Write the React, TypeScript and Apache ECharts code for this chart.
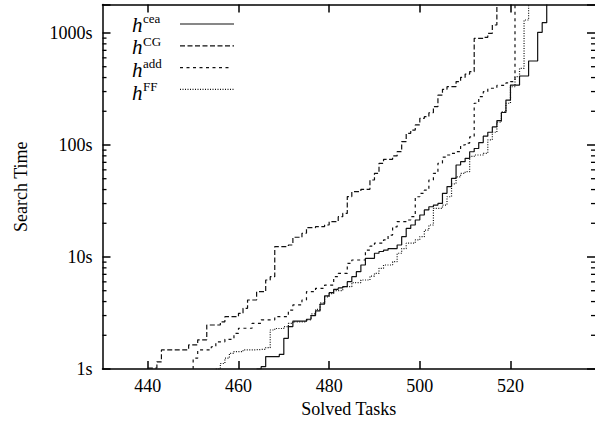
import React, { useEffect, useRef } from 'react';
import * as echarts from 'echarts';

// ---- data ----
const xMin = 430;
const xMax = 538.65;
const yMin = 1;
const yMax = 1800;
const xTicks = [440, 460, 480, 500, 520];
const yMajor = [1, 10, 100, 1000];
const yMinor = [2, 3, 4, 5, 6, 7, 8, 9, 20, 30, 40, 50, 60, 70, 80, 90, 200, 300, 400, 500, 600, 700, 800, 900];
const legendSup = ['cea', 'CG', 'add', 'FF'];

const ceaData: [number, number][] = [
  [464, 1], [465, 1.05], [466, 1.29], [469, 1.35], [470, 1.88], [471, 2.39], [472, 2.68], [475, 2.78],
  [476, 3.0], [477, 3.3], [478, 3.8], [479, 4.5], [480, 4.8], [481, 5.15], [482, 5.3], [483, 5.43],
  [484, 6.02], [485, 6.67], [486, 7.39], [487, 8.48], [488, 9.73], [490, 10.8], [491, 11.2], [492, 11.5],
  [493, 11.9], [495, 12.8], [496, 15.2], [497, 18.0], [498, 19.3], [499, 21.4], [500, 23.7], [501, 26.3],
  [502, 28.1], [503, 29.1], [504, 30.1], [505, 37], [506, 42.5], [507, 50.4], [508, 66.3], [509, 71],
  [510, 76.1], [511, 87], [512, 93], [513, 105], [514, 120], [515, 130], [516, 145], [517, 165],
  [518, 195], [519, 252], [520, 343], [522, 413], [524, 562], [526, 1014], [527, 1236], [528, 1800],
];

const cgData: [number, number][] = [
  [440, 1.02], [442, 1.16], [443, 1.48], [449, 1.64], [451, 1.82], [453, 2.47], [456, 2.64], [457, 2.93],
  [460, 3.14], [461, 3.48], [462, 4.13], [464, 4.9], [466, 6.23], [467, 6.67], [468, 12.4], [471, 12.8],
  [472, 15.0], [474, 16.3], [475, 18.3], [477, 18.7], [479, 19.3], [480, 20.7], [482, 22.9], [483, 24.5],
  [484, 34.6], [485, 38.3], [487, 40.2], [489, 48.7], [490, 55.9], [491, 68.6], [492, 74.5], [494, 79.8],
  [495, 87.2], [496, 107], [497, 127], [498, 136], [499, 151], [500, 173], [501, 179], [502, 194],
  [503, 220], [504, 279], [505, 314], [506, 332], [508, 368], [509, 402], [510, 430], [511, 452],
  [512, 896], [514, 915], [515, 993], [516, 1178], [517, 1262], [517, 1800],
];

const addData: [number, number][] = [
  [450, 1], [450, 1.25], [451, 1.48], [454, 1.58], [455, 1.75], [457, 1.84], [459, 2.08], [460, 2.31],
  [463, 2.56], [465, 2.74], [468, 2.93], [471, 3.36], [472, 3.73], [474, 4.13], [475, 4.9], [477, 5.25],
  [479, 5.62], [481, 6.67], [482, 7.15], [484, 8.78], [485, 9.4], [488, 11.5], [489, 12.5], [490, 13.3],
  [492, 14.2], [493, 15.7], [494, 18.6], [495, 20.7], [497, 21.4], [498, 22.9], [499, 34.5], [500, 37.0],
  [501, 39.6], [502, 48.7], [503, 55.9], [504, 68.7], [505, 78], [506, 81.4], [507, 84.3], [508, 87.1],
  [509, 100], [510, 104], [511, 118], [512, 236], [513, 270], [514, 299], [515, 321], [517, 340],
  [519, 358], [520, 368], [521, 1800],
];

const ffData: [number, number][] = [
  [455, 1], [456, 1.12], [457, 1.25], [458, 1.38], [459, 1.43], [461, 1.48], [463, 1.5], [466, 1.55],
  [467, 2.23], [468, 2.3], [470, 2.39], [471, 2.56], [472, 2.64], [475, 2.75], [476, 3.1], [477, 3.4],
  [478, 3.9], [479, 4.4], [480, 4.7], [481, 5.0], [483, 5.43], [485, 5.9], [487, 6.23], [489, 6.76],
  [490, 7.15], [491, 7.92], [492, 8.48], [494, 9.08], [495, 10.8], [496, 11.9], [497, 13.3], [499, 14.2],
  [500, 15.2], [501, 17.4], [502, 19.3], [503, 27.2], [505, 29.1], [506, 34.5], [507, 45], [508, 52],
  [509, 55.9], [510, 57.8], [511, 79], [512, 81.4], [514, 84.3], [515, 111], [516, 130], [517, 160],
  [518, 198], [519, 236], [520, 331], [521, 407], [522, 484], [523, 1306], [524, 1800],
];

const FONT = 'Liberation Serif';
const INK = '#111';

const seriesDefs = [
  { name: 'cea', data: ceaData, dash: 'solid' as any },
  { name: 'CG', data: cgData, dash: [5, 2.5] },
  { name: 'add', data: addData, dash: [3, 3.5] },
  { name: 'FF', data: ffData, dash: [1, 1.5] },
];

function isMajor(v: number) {
  return yMajor.some((m) => Math.abs(m - v) < 1e-6 * m);
}

export default function App() {
  const ref = useRef<HTMLDivElement>(null);

  useEffect(() => {
    const chart = echarts.init(ref.current!, null, { renderer: 'svg' });

    const legendGraphics: any[] = [];
    legendSup.forEach((sup, i) => {
      const hy = 24.7 + i * 22.6;
      const ly = 24 + i * 21.8;
      legendGraphics.push({
        type: 'text',
        x: 132,
        y: hy,
        style: { text: 'h', fontFamily: FONT, fontSize: 21, fontStyle: 'italic', fill: '#000', align: 'left', verticalAlign: 'middle' },
      });
      legendGraphics.push({
        type: 'text',
        x: 143,
        y: hy - 6.2,
        style: { text: sup, fontFamily: FONT, fontSize: 13, fill: '#000', align: 'left', verticalAlign: 'middle' },
      });
      const d = seriesDefs[i].dash;
      legendGraphics.push({
        type: 'line',
        shape: { x1: 180, y1: ly, x2: i === 2 ? 230 : 234, y2: ly },
        style: { stroke: INK, lineWidth: 1.2, lineDash: Array.isArray(d) ? d : null },
      });
    });

    const option: any = {
      animation: false,
      backgroundColor: '#fff',
      textStyle: { fontFamily: FONT },
      grid: { left: 102.5, top: 4.4, right: 0, bottom: 62 },
      xAxis: [
        {
          type: 'value',
          min: xMin,
          max: xMax,
          name: 'Solved Tasks',
          nameLocation: 'middle',
          nameGap: 30,
          nameTextStyle: { fontFamily: FONT, fontSize: 18, color: '#000' },
          axisLine: { show: true, onZero: false, lineStyle: { color: '#000', width: 1.5 } },
          axisTick: { show: true, inside: true, length: 8, customValues: xTicks, lineStyle: { color: '#000', width: 1.5 } },
          axisLabel: { show: true, customValues: xTicks, margin: 8, fontFamily: FONT, fontSize: 18, color: '#000' },
          splitLine: { show: false },
        },
        {
          type: 'value',
          position: 'top',
          min: xMin,
          max: xMax,
          axisLine: { show: true, onZero: false, lineStyle: { color: '#000', width: 1.5 } },
          axisTick: { show: true, inside: true, length: 8, customValues: xTicks, lineStyle: { color: '#000', width: 1.5 } },
          axisLabel: { show: false },
          splitLine: { show: false },
        },
      ],
      yAxis: [
        {
          type: 'log',
          logBase: 10,
          min: yMin,
          max: yMax,
          name: 'Search Time',
          nameLocation: 'middle',
          nameGap: 73,
          nameRotate: 90,
          nameTextStyle: { fontFamily: FONT, fontSize: 18, color: '#000' },
          axisLine: { show: true, onZero: false, lineStyle: { color: '#000', width: 1.5 } },
          axisTick: { show: true, inside: true, length: 8, lineStyle: { color: '#000', width: 1.5 } },
          axisLabel: {
            margin: 10,
            fontFamily: FONT,
            fontSize: 18,
            color: '#000',
            formatter: (v: number) => (isMajor(v) ? `${Math.round(v)}s` : ''),
          },
          splitLine: { show: false },
        },
        {
          type: 'log',
          logBase: 10,
          position: 'right',
          min: yMin,
          max: yMax,
          axisLine: { show: false },
          axisTick: { show: true, inside: true, length: 8, lineStyle: { color: '#000', width: 1.5 } },
          axisLabel: { show: false },
          splitLine: { show: false },
        },
      ],
      graphic: legendGraphics,
      series: [
        ...seriesDefs.map((s) => ({
          name: s.name,
          type: 'line',
          xAxisIndex: 0,
          yAxisIndex: 0,
          step: 'end',
          data: s.data,
          showSymbol: false,
          symbol: 'none',
          lineStyle: { color: INK, width: 1.2, type: s.dash },
          itemStyle: { color: INK },
          silent: true,
        })),
        {
          name: 'minorTicks',
          type: 'custom',
          xAxisIndex: 0,
          yAxisIndex: 0,
          silent: true,
          clip: false,
          data: yMinor.map((v) => [xMin, v]),
          renderItem: (params: any, api: any) => {
            const p = api.coord([xMin, api.value(1)]);
            const cs = params.coordSys;
            const st = { stroke: '#000', lineWidth: 1.3 };
            return {
              type: 'group',
              children: [
                { type: 'line', shape: { x1: cs.x, y1: p[1], x2: cs.x + 4, y2: p[1] }, style: st },
                { type: 'line', shape: { x1: cs.x + cs.width - 4, y1: p[1], x2: cs.x + cs.width, y2: p[1] }, style: st },
              ],
            };
          },
        },
      ],
    };

    chart.setOption(option);
    return () => chart.dispose();
  }, []);

  return <div ref={ref} style={{ position: 'absolute', left: 0, top: 0, width: 595, height: 431 }} />;
}
